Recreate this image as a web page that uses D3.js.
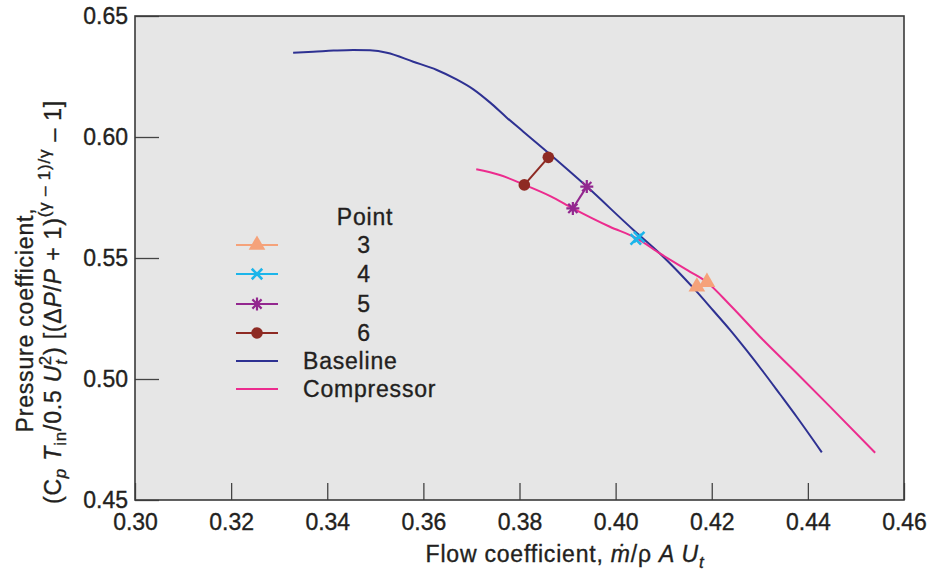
<!DOCTYPE html>
<html>
<head>
<meta charset="utf-8">
<script src="https://cdn.jsdelivr.net/npm/d3@7"></script>
<style>
  html, body { margin: 0; padding: 0; background: #ffffff; }
  svg { display: block; font-family: "Liberation Sans", Arial, Helvetica, sans-serif; }
  svg text { stroke: #231f20; stroke-width: 0.35px; }
</style>
</head>
<body>
<svg id="chart" width="930" height="573"></svg>
<script>
// Flow coefficient vs. pressure coefficient, baseline and compressor maps
const baselineFlow = [0.3329, 0.3371, 0.3413, 0.3454, 0.3489, 0.3524, 0.3579, 0.3628, 0.3669, 0.3704,
  0.3739, 0.3773, 0.3808, 0.3853, 0.3940, 0.4037, 0.4092, 0.4165, 0.4203, 0.4238, 0.4273, 0.4307, 0.4342, 0.4377, 0.4429];
const baselinePressure = [0.6348, 0.6352, 0.6357, 0.6360, 0.6358, 0.6348, 0.6311, 0.6277, 0.6238, 0.6197,
  0.6142, 0.6081, 0.6022, 0.5946, 0.5795, 0.5616, 0.5519, 0.5369, 0.5283, 0.5203, 0.5117, 0.5030, 0.4937, 0.4843, 0.4697];

const compressorFlow = [0.3710, 0.3759, 0.3811, 0.3864, 0.3911, 0.3988, 0.4044, 0.4092, 0.4155, 0.4190,
  0.4238, 0.4307, 0.4377, 0.4446, 0.4540];
const compressorPressure = [0.5867, 0.5843, 0.5802, 0.5756, 0.5705, 0.5629, 0.5581, 0.5519, 0.5443, 0.5400,
  0.5306, 0.5161, 0.5024, 0.4886, 0.4695];

// Operating points: each pairs a compressor-map value with its baseline value
const pointNames = ["3", "4", "5", "6"];
const pointFlow = [[0.4169, 0.4190], [0.4042, 0.4049], [0.3911, 0.3940], [0.3810, 0.3860]];
const pointPressure = [[0.5381, 0.5400], [0.5577, 0.5586], [0.5705, 0.5795], [0.5802, 0.5916]];

const xTicks = [0.30, 0.32, 0.34, 0.36, 0.38, 0.40, 0.42, 0.44, 0.46];
const yTicks = [0.45, 0.50, 0.55, 0.60, 0.65];

const pointColors = ["#f5a27a", "#1cb5ea", "#93278f", "#8e2a23"];
const pointSymbols = ["triangle", "cross", "asterisk", "circle"];
const baselineColor = "#2e3192";
const compressorColor = "#ec2c8e";

const textColor = "#231f20";
const svg = d3.select("#chart");
const plot = { left: 135, right: 904, top: 16, bottom: 500 };

const x = d3.scaleLinear().domain([0.30, 0.46]).range([plot.left, plot.right]);
const y = d3.scaleLinear().domain([0.45, 0.65]).range([plot.bottom, plot.top]);

// plot background
svg.append("rect")
  .attr("x", plot.left).attr("y", plot.top)
  .attr("width", plot.right - plot.left).attr("height", plot.bottom - plot.top)
  .attr("fill", "#e6e6e6");

// axes with inward ticks
const xAxis = svg.append("g")
  .attr("transform", `translate(0,${plot.bottom})`)
  .call(d3.axisBottom(x).tickValues(xTicks).tickSize(-17).tickPadding(14).tickFormat(d3.format(".2f")));
const yAxis = svg.append("g")
  .attr("transform", `translate(${plot.left},0)`)
  .call(d3.axisLeft(y).tickValues(yTicks).tickSize(-24).tickPadding(7).tickFormat(d3.format(".2f")));

[xAxis, yAxis].forEach(g => {
  g.select(".domain").remove();
  g.selectAll(".tick line").attr("stroke", "#444").attr("stroke-width", 1.3);
  g.selectAll(".tick text").attr("fill", textColor).style("font-size", "23px");
});

// frame
svg.append("rect")
  .attr("x", plot.left).attr("y", plot.top)
  .attr("width", plot.right - plot.left).attr("height", plot.bottom - plot.top)
  .attr("fill", "none").attr("stroke", "#3a3a3a").attr("stroke-width", 1.6);

// curves
const line = d3.line().x(d => x(d[0])).y(d => y(d[1])).curve(d3.curveMonotoneX);
svg.append("path")
  .datum(d3.zip(baselineFlow, baselinePressure))
  .attr("d", line).attr("fill", "none").attr("stroke", baselineColor).attr("stroke-width", 2);
svg.append("path")
  .datum(d3.zip(compressorFlow, compressorPressure))
  .attr("d", line).attr("fill", "none").attr("stroke", compressorColor).attr("stroke-width", 2);

// marker drawing
const asteriskSymbol = {
  draw(ctx, size) {
    const r = Math.sqrt(size) * 0.62;
    for (let k = 0; k < 4; k++) {
      const a = k * Math.PI / 4;
      ctx.moveTo(-r * Math.cos(a), -r * Math.sin(a));
      ctx.lineTo(r * Math.cos(a), r * Math.sin(a));
    }
  }
};
const crossSymbol = {
  draw(ctx, size) {
    const r = Math.sqrt(size) * 0.5;
    ctx.moveTo(-r, -r); ctx.lineTo(r, r);
    ctx.moveTo(-r, r); ctx.lineTo(r, -r);
  }
};
function drawMarker(g, kind, color, cx, cy) {
  if (kind === "triangle") {
    g.append("path").attr("transform", `translate(${cx},${cy})`)
      .attr("d", d3.symbol(d3.symbolTriangle, 120)()).attr("fill", color);
  } else if (kind === "circle") {
    g.append("circle").attr("cx", cx).attr("cy", cy).attr("r", 5.8).attr("fill", color);
  } else if (kind === "cross") {
    g.append("path").attr("transform", `translate(${cx},${cy})`)
      .attr("d", d3.symbol(crossSymbol, 110)()).attr("fill", "none")
      .attr("stroke", color).attr("stroke-width", 2.6);
  } else {
    g.append("path").attr("transform", `translate(${cx},${cy})`)
      .attr("d", d3.symbol(asteriskSymbol, 110)()).attr("fill", "none")
      .attr("stroke", color).attr("stroke-width", 2.2);
  }
}

// operating points
const pointsG = svg.append("g");
pointNames.forEach((name, i) => {
  const pts = d3.zip(pointFlow[i], pointPressure[i]);
  pointsG.append("path").datum(pts)
    .attr("d", d3.line().x(d => x(d[0])).y(d => y(d[1])))
    .attr("fill", "none").attr("stroke", pointColors[i]).attr("stroke-width", 2);
  pts.forEach(p => drawMarker(pointsG, pointSymbols[i], pointColors[i], x(p[0]), y(p[1])));
});

// legend
const legend = svg.append("g").style("font-size", "23px").style("letter-spacing", "0.8px").attr("fill", textColor);
legend.append("text").attr("x", 365).attr("y", 225).attr("text-anchor", "middle").text("Point");
const rowY = [245, 274, 304, 333, 361, 389];
pointNames.forEach((name, i) => {
  legend.append("line").attr("x1", 236).attr("x2", 278).attr("y1", rowY[i]).attr("y2", rowY[i])
    .attr("stroke", pointColors[i]).attr("stroke-width", 2);
  drawMarker(legend, pointSymbols[i], pointColors[i], 257, rowY[i]);
  legend.append("text").attr("x", 364).attr("y", rowY[i]).attr("dy", "0.36em")
    .attr("text-anchor", "middle").text(name);
});
[["Baseline", baselineColor], ["Compressor", compressorColor]].forEach(([label, color], k) => {
  const yy = rowY[4 + k];
  legend.append("line").attr("x1", 236).attr("x2", 278).attr("y1", yy).attr("y2", yy)
    .attr("stroke", color).attr("stroke-width", 2);
  legend.append("text").attr("x", 303).attr("y", yy).attr("dy", "0.36em").text(label);
});

// x-axis title
const xt = svg.append("text").attr("x", 565).attr("y", 562).attr("text-anchor", "middle")
  .style("font-size", "23px").style("letter-spacing", "0.8px").attr("fill", textColor);
xt.append("tspan").text("Flow coefficient, ");
xt.append("tspan").attr("font-style", "italic").text("\u1E41");
xt.append("tspan").text("/\u03C1 ");
xt.append("tspan").attr("font-style", "italic").text("A U");
xt.append("tspan").attr("font-style", "italic").attr("dy", 6).style("font-size", "17px").text("t");

// y-axis title (two rotated lines)
const yTitle = svg.append("g").attr("fill", textColor).style("font-size", "23px").style("letter-spacing", "0.8px");
yTitle.append("text").attr("transform", "translate(33,320) rotate(-90)")
  .attr("text-anchor", "middle").text("Pressure coefficient,");
const t2 = yTitle.append("text").attr("transform", "translate(61,302) rotate(-90)")
  .attr("text-anchor", "middle");
t2.append("tspan").text("(C");
t2.append("tspan").attr("font-style", "italic").attr("dy", 5).style("font-size", "17px").text("p");
t2.append("tspan").attr("font-style", "italic").attr("dy", -5).text(" T");
t2.append("tspan").attr("dy", 5).style("font-size", "17px").text("in");
t2.append("tspan").attr("dy", -5).text("/0.5 ");
t2.append("tspan").attr("font-style", "italic").text("U");
t2.append("tspan").attr("font-style", "italic").attr("dy", 6).style("font-size", "17px").text("t");
t2.append("tspan").attr("dx", -6).attr("dy", -16).style("font-size", "17px").text("2");
t2.append("tspan").attr("dy", 10).text(") [(\u0394");
t2.append("tspan").attr("font-style", "italic").text("P");
t2.append("tspan").text("/");
t2.append("tspan").attr("font-style", "italic").text("P");
t2.append("tspan").text(" + 1)");
t2.append("tspan").attr("dy", -11).style("font-size", "17px").text("(\u03B3 \u2013 1)/\u03B3");
t2.append("tspan").attr("dy", 11).text(" \u2013 1]");
</script>
</body>
</html>
